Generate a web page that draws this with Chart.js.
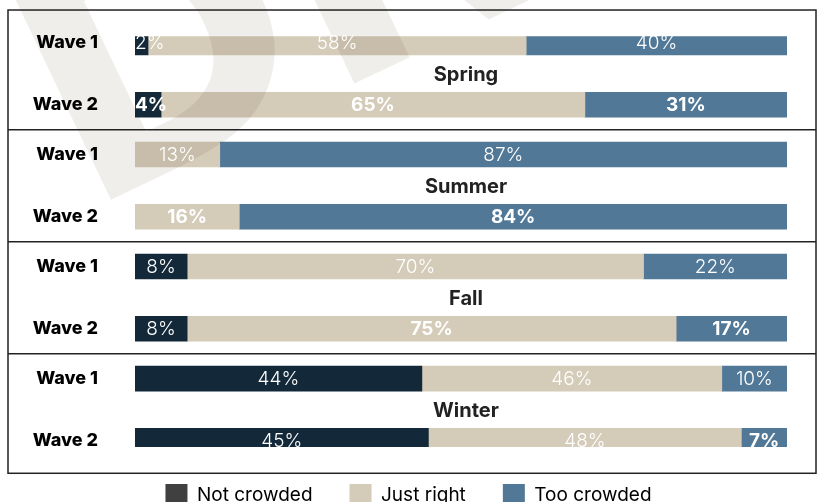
<!DOCTYPE html>
<html>
<head>
<meta charset="utf-8">
<script src="https://cdn.jsdelivr.net/npm/chart.js@4.4.1/dist/chart.umd.min.js"></script>
<style>
  html, body { margin: 0; padding: 0; background: #ffffff; }
  #c { display: block; }
</style>
</head>
<body>
<canvas id="c" width="817" height="502"></canvas>
<script>
// Crowding perception by season, two survey waves (percent of respondents)
const seasons = ['Spring', 'Summer', 'Fall', 'Winter'];
const waves = ['Wave 1', 'Wave 2'];
const seriesNames = ['Not crowded', 'Just right', 'Too crowded'];

// One entry per bar, in order: Spring W1, Spring W2, Summer W1, Summer W2, Fall W1, Fall W2, Winter W1, Winter W2
const notCrowded = [2, 4, 0, 0, 8, 8, 44, 45];
const justRight  = [58, 65, 13, 16, 70, 75, 46, 48];
const tooCrowded = [40, 31, 87, 84, 22, 17, 10, 7];

// Value labels shown in bold
const boldNotCrowded = [false, true, false, false, false, false, false, false];
const boldJustRight  = [false, true, false, true, false, true, false, false];
const boldTooCrowded = [false, true, false, true, false, true, false, true];

const barColors    = ['#13293a', '#d4cbb9', '#517897'];
const legendColors = ['#404040', '#d4cbb9', '#517897'];

const FONT = 'Inter, "Noto Sans", sans-serif';

// Rows sit on a fine category grid so the gap inside a season differs from the gap between seasons
const WAVE_STEP = 5;    // slots from Wave 1 to Wave 2
const SEASON_STEP = 9;  // slots from one season's Wave 1 to the next
const barSlots = [];
seasons.forEach((s, g) => waves.forEach((w, k) => barSlots.push(g * SEASON_STEP + k * WAVE_STEP)));
const slotCount = barSlots[barSlots.length - 1] + 1;
const slotLabels = Array.from({ length: slotCount }, () => '');
barSlots.forEach((slot, i) => { slotLabels[slot] = waves[i % waves.length]; });

// Empty segments (0 %) are left undrawn
function spread(values) {
  const out = Array.from({ length: slotCount }, () => null);
  barSlots.forEach((slot, i) => { out[slot] = values[i] > 0 ? values[i] : null; });
  return out;
}

const seriesValues = [notCrowded, justRight, tooCrowded];
const seriesBold = [boldNotCrowded, boldJustRight, boldTooCrowded];

// Faint slanted watermark drawn over the bars
const watermark = {
  id: 'watermark',
  afterDatasetsDraw(chart) {
    const ctx = chart.ctx;
    ctx.save();
    ctx.globalCompositeOperation = 'multiply';
    ctx.fillStyle = '#f0eeeb';
    ctx.translate(84, 212.5);
    ctx.rotate(-25.5 * Math.PI / 180);
    ctx.font = 'bold 325px "DejaVu Sans", sans-serif';
    ctx.textBaseline = 'alphabetic';
    ctx.fillText('DRAFT', 0, 0);
    ctx.restore();
  }
};

// Percent labels inside each segment
const valueLabels = {
  id: 'valueLabels',
  afterDraw(chart) {
    const ctx = chart.ctx;
    ctx.save();
    ctx.textBaseline = 'middle';
    ctx.textAlign = 'center';
    ctx.fillStyle = '#ffffff';
    chart.data.datasets.forEach((ds, d) => {
      const meta = chart.getDatasetMeta(d);
      barSlots.forEach((slot, i) => {
        const v = seriesValues[d][i];
        if (!v) return;
        const el = meta.data[slot];
        const bold = seriesBold[d][i];
        ctx.font = (bold ? '700 ' : '300 ') + '19px ' + FONT;
        const text = v + '%';
        const w = ctx.measureText(text).width;
        const left = Math.min(el.base, el.x);
        let cx = (el.base + el.x) / 2;
        cx = Math.max(cx, left + w / 2);
        ctx.fillText(text, cx, el.y + 1);
      });
    });
    ctx.restore();
  }
};

// Season titles, frame and separators
const seasonFrame = {
  id: 'seasonFrame',
  afterDraw(chart) {
    const ctx = chart.ctx;
    const y = chart.scales.y;
    const x = chart.scales.x;
    const centers = barSlots.map(s => y.getPixelForValue(s));
    ctx.save();
    ctx.fillStyle = '#222222';
    ctx.font = '700 20px ' + FONT;
    ctx.textAlign = 'center';
    ctx.textBaseline = 'alphabetic';
    const titleX = x.getPixelForValue(50) + 5;
    seasons.forEach((name, g) => {
      const mid = (centers[g * 2] + centers[g * 2 + 1]) / 2;
      ctx.fillText(name, titleX, mid + 7);
    });
    ctx.strokeStyle = '#222222';
    ctx.lineWidth = 1.5;
    const top = centers[0] - 32.5;
    const bottom = centers[centers.length - 1] + 32.5;
    const left = 8, right = 816;
    ctx.strokeRect(left, top, right - left, bottom - top);
    for (let g = 0; g < seasons.length - 1; g++) {
      const sep = (centers[g * 2 + 1] + centers[g * 2 + 2]) / 2;
      ctx.beginPath();
      ctx.moveTo(left, sep);
      ctx.lineTo(right, sep);
      ctx.stroke();
    }
    ctx.restore();
  }
};

new Chart(document.getElementById('c'), {
  type: 'bar',
  data: {
    labels: slotLabels,
    datasets: seriesNames.map((name, d) => ({
      label: name,
      data: spread(seriesValues[d]),
      backgroundColor: barColors[d],
      borderWidth: 0,
      barThickness: 25
    }))
  },
  options: {
    indexAxis: 'y',
    responsive: false,
    animation: false,
    devicePixelRatio: 1,
    layout: { padding: { left: 30, right: 30, top: 36.3, bottom: -14 } },
    scales: {
      x: { stacked: true, min: 0, max: 100, display: false },
      y: {
        stacked: true,
        grid: { display: false, drawTicks: false },
        border: { display: false },
        ticks: {
          autoSkip: false,
          padding: 37,
          color: '#000000',
          font: { family: FONT, size: 18, weight: 800 }
        },
        afterFit(scale) {
          scale.width = 105;
          scale.paddingTop = 0;
          scale.paddingBottom = 0;
        }
      }
    },
    plugins: {
      tooltip: { enabled: false },
      legend: {
        position: 'bottom',
        labels: {
          boxWidth: 22,
          boxHeight: 22,
          padding: 37,
          color: '#333333',
          font: { family: FONT, size: 19, weight: 400 },
          generateLabels(chart) {
            return chart.data.datasets.map((ds, i) => ({
              text: ds.label,
              fillStyle: legendColors[i],
              strokeStyle: legendColors[i],
              lineWidth: 0,
              hidden: false,
              datasetIndex: i
            }));
          }
        }
      }
    }
  },
  plugins: [watermark, valueLabels, seasonFrame]
});
</script>
</body>
</html>
